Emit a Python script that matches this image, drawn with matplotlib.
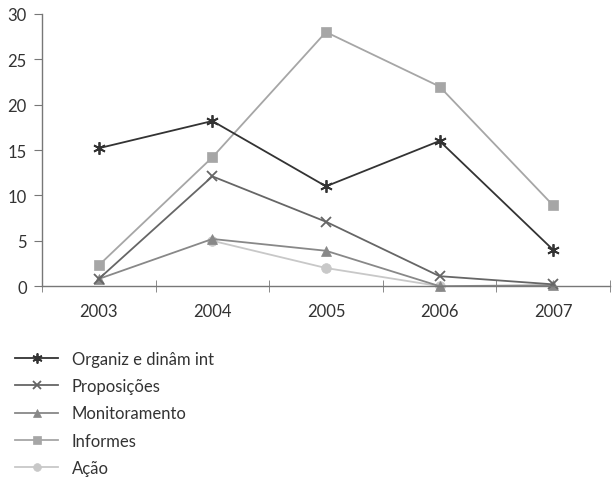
import numpy as np
import matplotlib.pyplot as plt

plt.rcParams['font.family'] = ['Lato', 'DejaVu Sans']

years = ['2003', '2004', '2005', '2006', '2007']
organiz = [15.2, 18.2, 11, 16, 4]
proposicoes = [0.8, 12.1, 7.1, 1.1, 0.2]
monitoramento = [0.8, 5.2, 3.9, 0, 0.1]
informes = [2.3, 14.2, 28, 22, 8.9]
acao = [np.nan, 5, 2, 0, np.nan]

series = [
    ('Organiz e dinâm int', organiz, '#333333', (6, 2, 0), 9),
    ('Proposições', proposicoes, '#666666', 'x', 7),
    ('Monitoramento', monitoramento, '#888888', '^', 7),
    ('Informes', informes, '#a6a6a6', 's', 7),
    ('Ação', acao, '#c8c8c8', 'o', 7),
]

fig = plt.figure(figsize=(6.13, 4.81), dpi=100)
ax = fig.add_axes([0.0685, 0.403, 0.9265, 0.566])
x = np.arange(len(years))

# draw back to front so the dark series sits on top
for label, vals, col, mk, ms in reversed(series):
    ax.plot(x, vals, color=col, marker=mk, markersize=ms, lw=1.3,
            markeredgewidth=1.3 if mk in ('x', (6, 2, 0)) else 0.5,
            markeredgecolor=col, label=label, clip_on=False)

ax.set_xlim(-0.5, 4.5)
ax.set_ylim(0, 30)
ax.set_yticks(range(0, 31, 5))
ax.set_xticks(x)
ax.set_xticklabels(years)
ax.set_xticks(np.arange(-0.5, 4.6, 1), minor=True)
ax.tick_params(axis='x', which='major', length=0, pad=12, labelsize=12, labelcolor='#333333')
ax.tick_params(axis='x', which='minor', length=8, direction='inout', color='#777777')
ax.tick_params(axis='y', length=6, color='#777777', labelsize=12, labelcolor='#333333', pad=5)

for s in ['top', 'right']:
    ax.spines[s].set_visible(False)
for s in ['left', 'bottom']:
    ax.spines[s].set_color('#777777')
    ax.spines[s].set_linewidth(1)

handles, labels = ax.get_legend_handles_labels()
fig.legend(handles[::-1], labels[::-1], loc='upper left', bbox_to_anchor=(0.0, 0.3),
           frameon=False, fontsize=12, handlelength=2.6, labelspacing=0.68,
           handletextpad=0.8, markerscale=0.8, labelcolor='#333333')

plt.savefig('out.png', dpi=100)
